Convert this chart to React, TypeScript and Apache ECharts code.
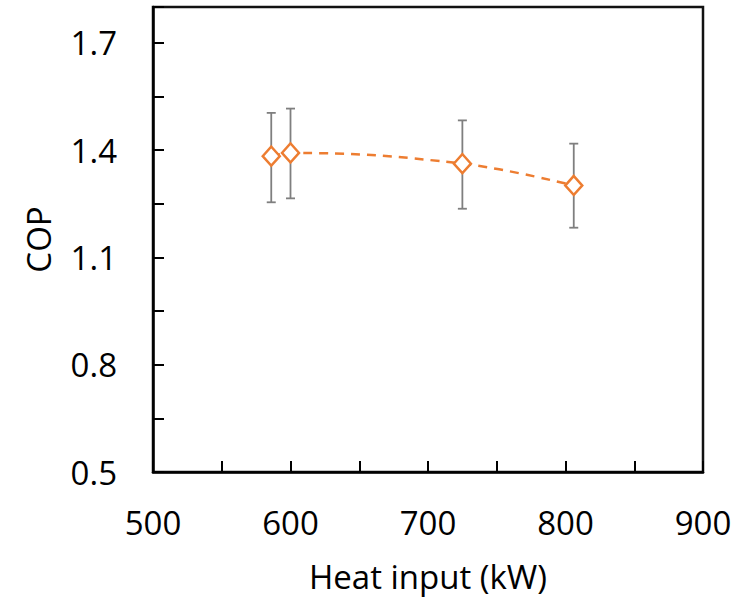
import React, { useEffect, useRef } from "react";
import * as echarts from "echarts";

const heatInput = [586, 600, 725, 806];
const cop = [1.383, 1.392, 1.362, 1.301];
const copLow = [1.254, 1.265, 1.236, 1.183];
const copHigh = [1.504, 1.516, 1.483, 1.418];

const xTicks = [500, 600, 700, 800, 900];
const yTicks = [0.5, 0.8, 1.1, 1.4, 1.7];

const FONT = "'Open Sans', 'Noto Sans', sans-serif";
const ORANGE = "#ED7D31";

export default function App() {
  const ref = useRef<HTMLDivElement>(null);
  useEffect(() => {
    if (!ref.current) return;
    const chart = echarts.init(ref.current, undefined, { renderer: "svg" });
    const isMajor = (v: number, list: number[]) => list.some((t) => Math.abs(t - v) < 1e-6);
    chart.setOption({
      animation: false,
      grid: {
        left: 153,
        right: 36,
        top: 7,
        bottom: 125,
        show: true,
        borderColor: "#111",
        borderWidth: 2.5,
        backgroundColor: "transparent",
      },
      xAxis: {
        type: "value",
        min: 500,
        max: 900,
        interval: 50,
        name: "Heat input (kW)",
        nameLocation: "middle",
        nameGap: 88,
        nameTextStyle: { fontFamily: FONT, fontSize: 33, color: "#000" },
        axisLine: { show: true, lineStyle: { color: "#000", width: 2.5 } },
        axisTick: { show: true, inside: true, length: 11, lineStyle: { color: "#000", width: 2 } },
        splitLine: { show: false },
        axisLabel: {
          margin: 34,
          fontFamily: FONT,
          fontSize: 33,
          color: "#000",
          formatter: (v: number) => (isMajor(v, xTicks) ? String(v) : ""),
        },
      },
      yAxis: {
        type: "value",
        min: 0.5,
        max: 1.8,
        interval: 0.15,
        name: "COP",
        nameLocation: "middle",
        nameGap: 98,
        nameTextStyle: { fontFamily: FONT, fontSize: 33, color: "#000" },
        axisLine: { show: true, lineStyle: { color: "#000", width: 2.5 } },
        axisTick: { show: true, inside: true, length: 11, lineStyle: { color: "#000", width: 2 } },
        splitLine: { show: false },
        axisLabel: {
          margin: 36,
          fontFamily: FONT,
          fontSize: 33,
          color: "#000",
          formatter: (v: number) => (isMajor(v, yTicks) ? v.toFixed(1) : ""),
        },
      },
      series: [
        {
          type: "custom",
          z: 1,
          data: heatInput.map((x, i) => [x, copLow[i], copHigh[i]]),
          renderItem: (params: any, api: any) => {
            const x = api.value(0);
            const lo = api.coord([x, api.value(1)]);
            const hi = api.coord([x, api.value(2)]);
            const cap = 4.5;
            const style = { stroke: "#7f7f7f", lineWidth: 1.8 };
            return {
              type: "group",
              children: [
                { type: "line", shape: { x1: lo[0], y1: lo[1], x2: hi[0], y2: hi[1] }, style },
                { type: "line", shape: { x1: lo[0] - cap, y1: lo[1], x2: lo[0] + cap, y2: lo[1] }, style },
                { type: "line", shape: { x1: hi[0] - cap, y1: hi[1], x2: hi[0] + cap, y2: hi[1] }, style },
              ],
            };
          },
        },
        {
          type: "line",
          z: 3,
          data: heatInput.map((x, i) => [x, cop[i]]),
          smooth: 0.4,
          symbol: "diamond",
          symbolSize: [17, 19],
          showAllSymbol: true,
          lineStyle: { color: ORANGE, width: 2.5, type: [9, 7] },
          itemStyle: { color: "#fff", borderColor: ORANGE, borderWidth: 2.5 },
        },
      ],
    });
    return () => chart.dispose();
  }, []);
  return <div ref={ref} style={{ width: 739, height: 598, position: "absolute", left: 0, top: 0 }} />;
}
